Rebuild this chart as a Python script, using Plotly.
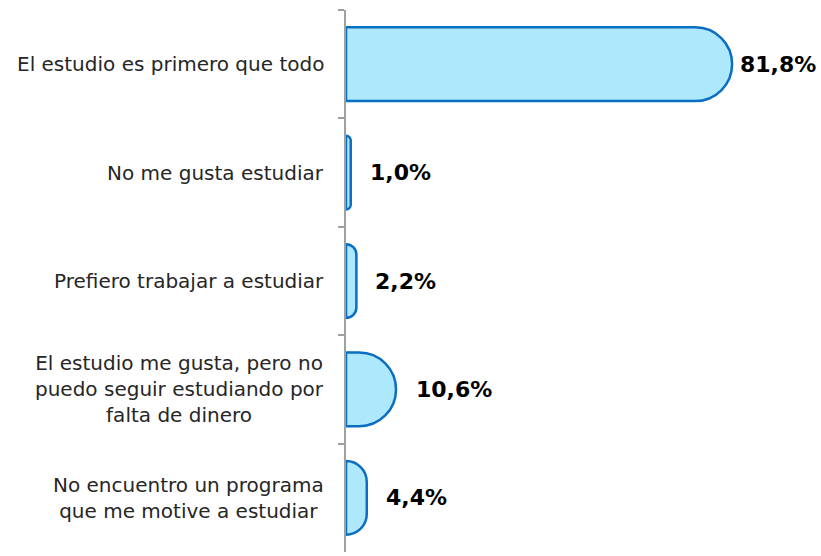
import plotly.graph_objects as go

categories = [
    "El estudio es primero que todo",
    "No me gusta estudiar",
    "Prefiero trabajar a estudiar",
    "El estudio me gusta, pero no<br>puedo seguir estudiando por<br>falta de dinero",
    "No encuentro un programa<br>que me motive a estudiar",
]
values = [81.8, 1.0, 2.2, 10.6, 4.4]
value_labels = ["81,8%", "1,0%", "2,2%", "10,6%", "4,4%"]
label_shifts = [6, 17, 17, 18, 17]

FONT = "DejaVu Sans"

fig = go.Figure()
fig.add_trace(go.Bar(
    x=values,
    y=categories,
    orientation="h",
    width=0.68,
    marker=dict(color="#ade8fc", line=dict(color="#0b6ec0", width=2.5), cornerradius=38),
    hoverinfo="skip",
))

annotations = []
for cat, v, lab, sh in zip(categories, values, value_labels, label_shifts):
    annotations.append(dict(
        x=v, y=cat, xref="x", yref="y", text=lab, showarrow=False,
        xanchor="left", yanchor="middle", xshift=sh,
        font=dict(family=FONT, size=22, color="#000000", weight="bold"),
    ))
    annotations.append(dict(
        x=0, y=cat, xref="paper", yref="y", text=cat, showarrow=False,
        xanchor="right", yanchor="middle", xshift=-20, align="center",
        font=dict(family=FONT, size=20, color="#262626"),
    ))

fig.update_layout(
    width=821, height=556,
    margin=dict(l=346, r=3, t=10, b=4),
    paper_bgcolor="white", plot_bgcolor="white",
    showlegend=False,
    xaxis=dict(range=[0, 100], visible=False, fixedrange=True, automargin=False),
    yaxis=dict(
        autorange="reversed", showticklabels=False, tickson="boundaries",
        ticks="outside", ticklen=6, tickcolor="#a0a0a0", tickwidth=1.5,
        showline=True, linecolor="#a0a0a0", linewidth=1.5, showgrid=False,
        zeroline=False, automargin=False, fixedrange=True,
    ),
    annotations=annotations,
)

fig.write_html("out.html", config={"displayModeBar": False},
               post_script="document.body.style.margin='0';")
